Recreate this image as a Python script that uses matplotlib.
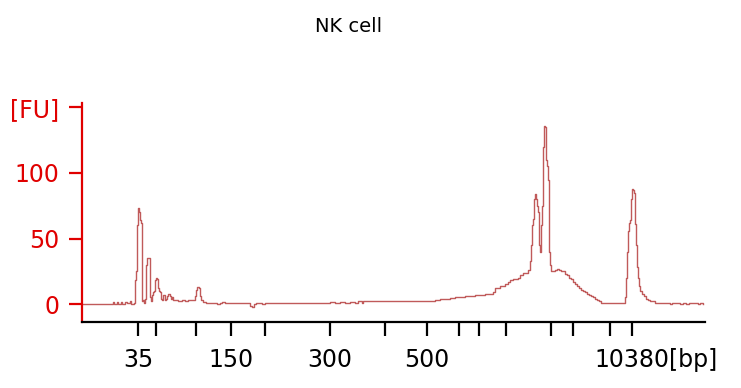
import numpy as np
import matplotlib
matplotlib.use("Agg")
import matplotlib.pyplot as plt

# electropherogram trace: migration position vs fluorescence (FU)
pos = [82, 112, 113, 114, 117, 118, 121, 122, 125, 127, 130, 131,
       134, 135, 136, 137, 138, 139, 140, 141, 142, 143, 144, 145, 146, 147, 149, 150,
       151, 152, 153, 154, 155, 156, 157, 158, 159, 160, 161, 162, 163, 164, 165, 166,
       167, 168, 169, 170, 171, 172, 173, 175, 177, 178, 182, 185, 188, 193, 195, 196,
       197, 199, 200, 201, 203, 206, 210, 215, 217, 220, 222, 225, 230, 240, 248, 250,
       252, 254, 256, 260, 262, 265, 270, 275, 280, 285, 290, 295, 300, 305, 310, 315,
       320, 325, 330, 335, 340, 345, 350, 355, 358, 362, 363, 370, 380, 390, 400, 410,
       420, 425, 430, 435, 440, 445, 450, 455, 460, 465, 470, 475, 480, 485, 490, 493,
       495, 500, 503, 505, 508, 510, 513, 515, 518, 520, 523, 525, 528, 530, 531, 532,
       533, 534, 535, 536, 537, 538, 539, 540, 541, 542, 543, 544, 545, 546, 547, 548,
       549, 550, 551, 553, 555, 557, 559, 561, 563, 565, 567, 569, 571, 573, 575, 577,
       579, 581, 583, 585, 587, 589, 591, 593, 595, 597, 599, 601, 605, 610, 615, 620,
       624, 625, 626, 627, 628, 629, 630, 631, 632, 633, 634, 635, 636, 637, 638, 639,
       640, 642, 644, 646, 648, 650, 655, 660, 665, 670, 672, 675, 678, 680, 683, 686,
       689, 692, 695, 698, 700, 703]
fu = [0, 0, 1.5, 0, 1.5, 0, 1.5, 0, 1.5, 0.5, 2, 0,
      1, 18, 25, 60, 73, 70, 64, 62, 2, 3, 1, 4, 30, 35, 35, 5,
      2, 7, 9, 10, 18, 20, 19, 12, 10, 9, 4, 3, 7, 7, 3, 4,
      6, 8, 8, 6, 4, 5, 3, 3, 3, 2.5, 3, 2.5, 3, 3, 6, 11,
      13, 12, 6, 3, 1.5, 1, 0.5, 1, 0, 1, 1.5, 1, 1, 1, 1, -1.5,
      -2, 0, 0.5, 1, 0, 1, 0.5, 1, 0.5, 1, 0.5, 1, 0.5, 1, 0.5, 1,
      0.5, 1, 1.5, 0.5, 1.5, 1, 1.5, 1, 2, 1, 2, 2, 2, 2, 2, 2,
      2, 2.5, 2.5, 3, 4, 4, 4.5, 5, 5, 6, 6, 7, 7, 8, 8, 9,
      12, 14, 14, 15, 17, 18, 19, 19, 20, 22, 24, 24, 26, 33, 45, 60,
      65, 80, 84, 80, 75, 70, 45, 40, 60, 75, 120, 136, 135, 110, 105, 95,
      40, 30, 25, 25, 26, 27, 26, 25, 25, 23, 22, 20, 19, 17, 15, 14,
      12, 11, 10, 9, 8, 7, 6, 5, 4, 3, 2, 1, 1, 1, 1, 1,
      1, 5, 20, 40, 56, 62, 64, 80, 88, 87, 85, 61, 45, 28, 20, 14,
      10, 8, 6, 4, 3, 2, 1, 1, 1, 0, 1, 0.5, 1, 0, 1, 0,
      1, 0.5, 1, 0, 1, 0]

tick_pos = [138, 156, 196, 231, 265, 330, 385, 427, 459, 479, 506, 551, 573, 610, 632]
tick_lab = ["35", "", "", "150", "", "300", "", "500", "", "", "", "", "", "", "10380"]
y_ticks = [0, 50, 100, 150]
y_labs = ["0", "50", "100", "[FU]"]

red = "#e00000"

fig = plt.figure(figsize=(7.41, 3.88), dpi=100)
ax = fig.add_axes([82 / 741, 1 - 322 / 388, 623 / 741, 219 / 388])

ax.plot(pos, fu, drawstyle="steps-post", color="#c05a5a", lw=1.0)

ax.set_xlim(82, 705)
ax.set_ylim(-13.7, 153.4)

for s in ["top", "right"]:
    ax.spines[s].set_visible(False)
ax.spines["left"].set_color(red)
ax.spines["left"].set_linewidth(1.6)
ax.spines["bottom"].set_color("black")
ax.spines["bottom"].set_linewidth(1.6)

ax.set_xticks(tick_pos)
ax.set_xticklabels(tick_lab)
ax.set_yticks(y_ticks)
ax.set_yticklabels(y_labs)

ax.tick_params(axis="y", colors=red, labelcolor=red, length=9.5, width=1.6,
               labelsize=17, pad=7)
ax.tick_params(axis="x", colors="black", length=10, width=1.6, labelsize=17, pad=9)

ax.annotate("[bp]", xy=(669, 0), xycoords=("data", "axes fraction"),
            xytext=(0, -19), textcoords="offset points",
            ha="left", va="top", fontsize=17)

fig.text(349 / 741, 1 - 26 / 388, "NK cell", ha="center", va="center", fontsize=14)

fig.savefig("out.png", dpi=100)
